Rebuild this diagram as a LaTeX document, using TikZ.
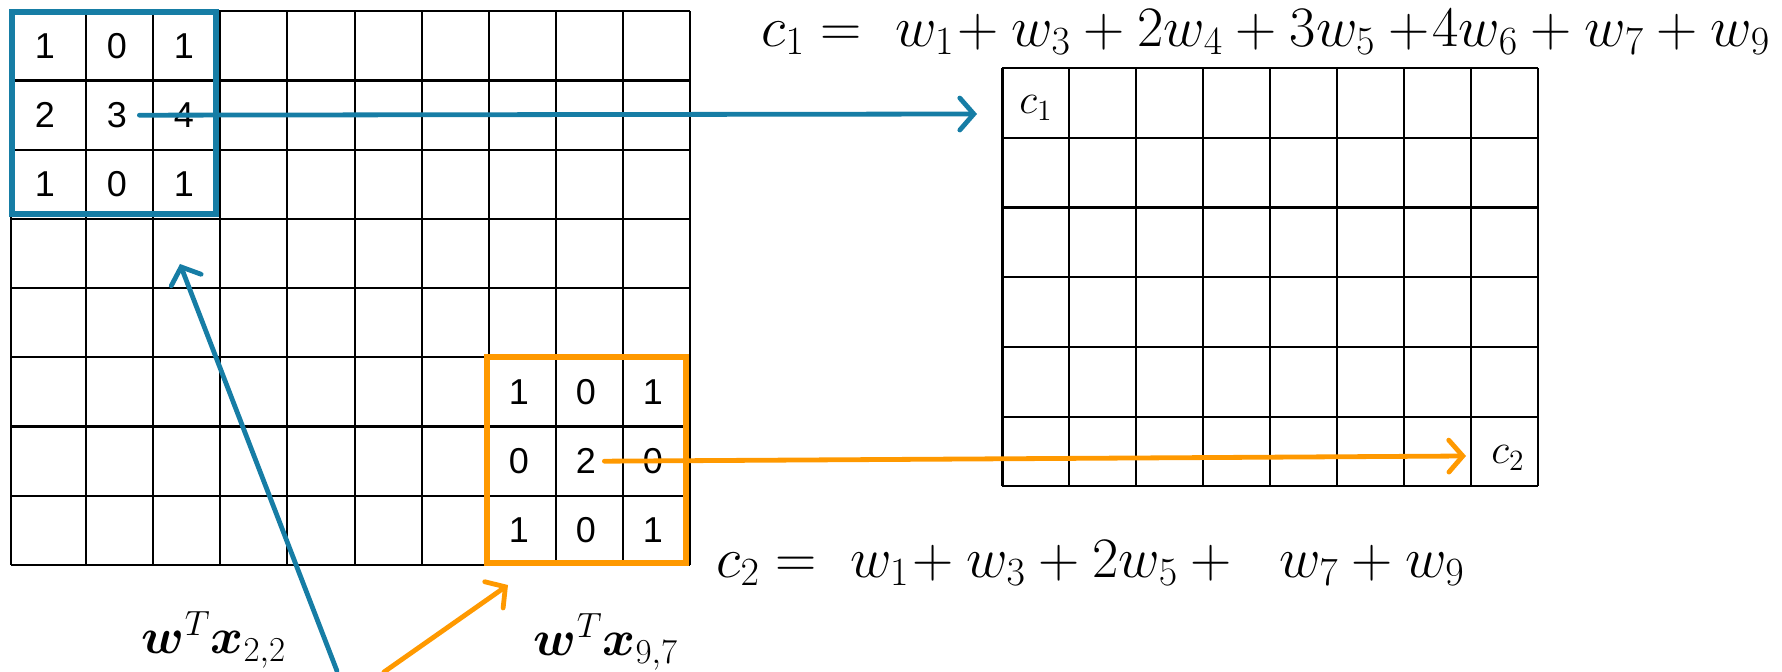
\RequirePackage{fix-cm}
\documentclass[tikz,border=0pt]{standalone}
\usepackage{amsmath,amssymb,amsfonts}
\usepackage[no-math]{fontspec}
\newfontfamily\arialfont{Liberation Sans}
\usepackage{xcolor}
\usepackage{tikz}
\usetikzlibrary{arrows.meta, positioning}
\definecolor{kblue}{RGB}{22,125,165}
\definecolor{korange}{RGB}{255,153,0}

\begin{document}
\begin{tikzpicture}[x=0.5pt, y=-0.5pt]
\tikzstyle{grid} = [draw, black, line width=1.1pt]
\tikzstyle{val} = [font=\arialfont\fontsize{18}{21}\selectfont, inner sep=1pt]
\tikzstyle{kernel} = [line width=2.6pt]
\tikzstyle{line} = [draw, line width=2.4pt, line cap=round, -{Straight Barb[length=7pt,width=16pt,line cap=round]}]
\tikzstyle{eq} = [font=\fontsize{28.6}{33}\selectfont, inner sep=0pt]
\tikzstyle{dot} = [font=\fontsize{25}{30}\selectfont, inner sep=0pt]
\tikzstyle{cell} = [font=\fontsize{21}{24}\selectfont, inner sep=0pt]
\useasboundingbox (0,0) rectangle (1782,672);
% input image, 10 x 8
\foreach \x in {11,86,153,220,287,355,422,489,556,623,690}
  \draw[grid] (\x,11.4) -- (\x,565);
\foreach \k in {0,...,8}
  \draw[grid] (11,{11.4+\k*69.2}) -- (690,{11.4+\k*69.2});
% feature map, 8 x 6
\foreach \k in {0,...,8}
  \draw[grid] ({1002.4+\k*66.9},68.2) -- ({1002.4+\k*66.9},486.4);
\foreach \k in {0,...,6}
  \draw[grid] (1002.4,{68.2+\k*69.7}) -- (1537.7,{68.2+\k*69.7});
% kernel at (2,2)
\foreach \a/\b/\c [count=\r] in {1/0/1, 2/3/4, 1/0/1} {
  \node[val] (bl-\r-1) at (45,{46+(\r-1)*69.2}) {\a};
  \node[val] (bl-\r-2) at (117,{46+(\r-1)*69.2}) {\b};
  \node[val] (bl-\r-3) at (184,{46+(\r-1)*69.2}) {\c};
}
\draw[kernel, kblue] (12,12) rectangle (216,214);
% kernel at (9,7)
\foreach \a/\b/\c [count=\r] in {1/0/1, 0/2/0, 1/0/1} {
  \node[val] (or-\r-1) at (519,{392+(\r-1)*69.2}) {\a};
  \node[val] (or-\r-2) at (586,{392+(\r-1)*69.2}) {\b};
  \node[val] (or-\r-3) at (653,{392+(\r-1)*69.2}) {\c};
}
\draw[kernel, korange] (487,357) rectangle (686,563);
% outputs
\node[cell] (c1) at (1036,108) {$c_1$};
\node[cell] (c2) at (1508,458) {$c_2$};
\coordinate (c1in) at (977,114);
\coordinate (c2in) at (1466,456);
\path[line, kblue] ([xshift=5pt]bl-2-2.east) -- (c1in);
\path[line, korange] ([xshift=3pt]or-2-2.east) -- (c2in);
% dot products
\node[dot] (wx1) at (214,640) {$\boldsymbol{w}^T\boldsymbol{x}_{2,2}$};
\node[dot] (wx2) at (606,642) {$\boldsymbol{w}^T\boldsymbol{x}_{9,7}$};
\coordinate (foot1) at (337,671);
\coordinate (tip1) at (180,264);
\coordinate (foot2) at (384,672);
\coordinate (tip2) at (508,585);
\path[line, kblue] (foot1) -- (tip1);
\path[line, korange] (foot2) -- (tip2);
% sums
\node[eq, anchor=west] (sum1) at (761,32) {$c_1 =\ w_1\!+ w_3 + 2w_4 + 3w_5 \mathbin{+}\!4w_6 + w_7 + w_9$};
\node[eq, anchor=west] (sum2) at (716,563) {$c_2 =\ w_1\!+ w_3 + 2w_5 +\ \ w_7 + w_9$};
\end{tikzpicture}
\end{document}
